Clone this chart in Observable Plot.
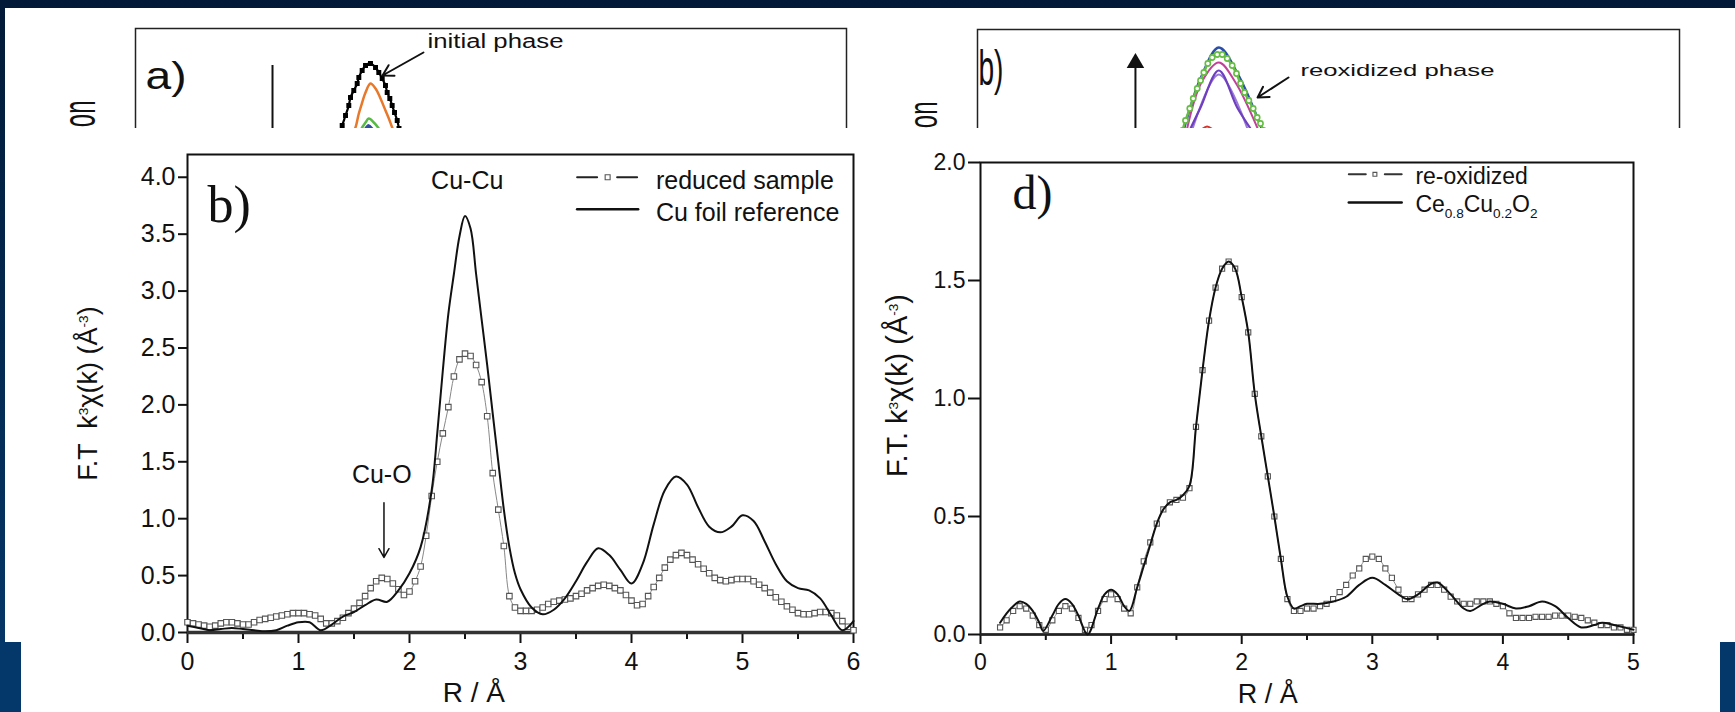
<!DOCTYPE html>
<html><head><meta charset="utf-8">
<script src="https://cdn.jsdelivr.net/npm/d3@7"></script>
<script src="https://cdn.jsdelivr.net/npm/@observablehq/plot@0.6"></script>
<style>
html,body{margin:0;padding:0;}
body{width:1735px;height:712px;overflow:hidden;position:relative;background:linear-gradient(#021a37,#05396c);font-family:"Liberation Sans",Arial,sans-serif;}
#paper{position:absolute;left:5px;top:8px;width:1730px;height:704px;background:#fff;}
.blk{position:absolute;background:#04386b;}
.frag{position:absolute;top:8px;height:120px;overflow:hidden;}
.main{position:absolute;top:128px;}
svg{display:block;}
</style></head><body>
<div id="paper"></div>
<div class="blk" style="left:0;top:642px;width:21px;height:70px"></div>
<div class="blk" style="left:1720px;top:642px;width:15px;height:70px"></div>
<div id="fragA" class="frag" style="left:0;width:870px"></div>
<div id="fragB" class="frag" style="left:870px;width:865px"></div>
<div id="chartB" class="main" style="left:0"></div>
<div id="chartD" class="main" style="left:870px"></div>
<script>
// ---------------- DATA: panel b) (left main chart) ----------------
const xTicksB = [0, 1, 2, 3, 4, 5, 6];
const xMinorB = [0.5, 1.5, 2.5, 3.5, 4.5, 5.5];
const yTicksB = [0, 0.5, 1, 1.5, 2, 2.5, 3, 3.5, 4];
const R_cuFoil = [0,0.1,0.2,0.3,0.4,0.5,0.6,0.7,0.8,0.9,1.0,1.1,1.2,1.3,1.4,1.5,1.6,1.7,1.8,1.9,2.0,2.1,2.2,
  2.25,2.3,2.35,2.4,2.45,2.5,2.55,2.6,2.65,2.7,2.75,2.8,2.85,2.9,2.95,3.0,
  3.1,3.2,3.3,3.4,3.5,3.6,3.7,3.8,3.9,4.0,4.1,4.2,4.3,4.4,4.5,4.6,4.7,4.8,4.9,5.0,5.1,5.2,5.3,5.4,5.5,5.6,5.7,5.8,5.9,6.0];
const cuFoil = [0.06,0.04,0.02,0.03,0.04,0.03,0.02,0.01,0.02,0.06,0.09,0.09,0.02,0.07,0.14,0.18,0.24,0.29,0.27,0.37,0.52,0.75,1.25,
  1.75,2.3,2.8,3.15,3.48,3.66,3.55,3.15,2.75,2.35,1.92,1.5,1.08,0.75,0.52,0.38,
  0.22,0.16,0.2,0.3,0.45,0.62,0.74,0.68,0.55,0.43,0.6,0.95,1.25,1.37,1.3,1.1,0.93,0.88,0.93,1.03,0.98,0.8,0.6,0.45,0.39,0.37,0.3,0.15,0.02,0.1];
const R_reduced = [0,0.05,0.1,0.15,0.2,0.25,0.3,0.35,0.4,0.45,0.5,0.55,0.6,0.65,0.7,0.75,0.8,0.85,0.9,0.95,
  1.0,1.05,1.1,1.15,1.2,1.25,1.3,1.35,1.4,1.45,1.5,1.55,1.6,1.65,1.7,1.75,1.8,1.85,1.9,1.95,
  2.0,2.05,2.1,2.15,2.2,2.25,2.3,2.35,2.4,2.45,2.5,2.55,2.6,2.65,2.7,2.75,2.8,2.85,2.9,2.95,
  3.0,3.05,3.1,3.15,3.2,3.25,3.3,3.35,3.4,3.45,3.5,3.55,3.6,3.65,3.7,3.75,3.8,3.85,3.9,3.95,
  4.0,4.05,4.1,4.15,4.2,4.25,4.3,4.35,4.4,4.45,4.5,4.55,4.6,4.65,4.7,4.75,4.8,4.85,4.9,4.95,
  5.0,5.05,5.1,5.15,5.2,5.25,5.3,5.35,5.4,5.45,5.5,5.55,5.6,5.65,5.7,5.75,5.8,5.85,5.9,5.95,6.0];
const reduced = [0.09,0.08,0.07,0.06,0.05,0.06,0.08,0.09,0.09,0.08,
  0.07,0.07,0.09,0.11,0.12,0.13,0.14,0.15,0.16,0.17,
  0.17,0.17,0.16,0.15,0.12,0.08,0.08,0.10,0.13,0.17,
  0.21,0.26,0.32,0.39,0.45,0.48,0.47,0.43,0.38,0.33,
  0.36,0.45,0.58,0.85,1.20,1.50,1.75,1.98,2.25,2.40,
  2.45,2.43,2.35,2.20,1.90,1.40,1.08,0.76,0.32,0.22,
  0.19,0.19,0.19,0.20,0.22,0.25,0.27,0.28,0.29,0.30,
  0.32,0.34,0.37,0.39,0.41,0.42,0.41,0.39,0.37,0.33,
  0.28,0.24,0.25,0.32,0.40,0.48,0.57,0.64,0.68,0.70,
  0.68,0.64,0.60,0.56,0.52,0.48,0.46,0.45,0.46,0.47,
  0.47,0.47,0.45,0.42,0.39,0.35,0.31,0.27,0.23,0.20,
  0.17,0.16,0.16,0.17,0.18,0.18,0.17,0.15,0.10,0.05,0.02];
const legendB = ["reduced sample", "Cu foil reference"];

// ---------------- DATA: panel d) (right main chart) ----------------
const xTicksD = [0, 1, 2, 3, 4, 5];
const xMinorD = [0.5, 1.5, 2.5, 3.5, 4.5];
const yTicksD = [0, 0.5, 1, 1.5, 2];
const R_ce = [0.15,0.2,0.25,0.3,0.35,0.4,0.45,0.48,0.55,0.6,0.65,0.7,0.75,0.82,0.9,0.95,1.0,1.05,1.1,1.14,
  1.2,1.25,1.3,1.35,1.4,1.45,1.5,1.55,1.6,1.65,1.7,1.75,1.8,1.85,1.9,1.95,2.0,2.05,2.1,
  2.15,2.2,2.25,2.3,2.35,2.4,2.45,2.5,2.6,2.7,2.8,2.9,3.0,3.1,3.2,3.27,3.35,3.45,3.5,3.6,3.7,3.75,3.85,3.9,
  4.0,4.1,4.2,4.3,4.4,4.5,4.6,4.7,4.76,4.85,5.0];
const ceCu = [0.05,0.09,0.12,0.14,0.13,0.1,0.05,0.015,0.08,0.13,0.15,0.13,0.08,0.0,0.11,0.17,0.19,0.17,0.12,0.1,
  0.2,0.29,0.38,0.47,0.53,0.56,0.57,0.59,0.63,0.88,1.12,1.33,1.47,1.55,1.58,1.55,1.43,1.28,1.02,
  0.84,0.67,0.5,0.32,0.16,0.11,0.12,0.13,0.13,0.14,0.16,0.21,0.24,0.21,0.17,0.15,0.17,0.215,0.22,0.17,0.11,0.10,0.13,0.14,
  0.13,0.11,0.12,0.14,0.12,0.07,0.03,0.04,0.05,0.04,0.02];
const R_reox = [0.15,0.2,0.25,0.3,0.35,0.4,0.45,0.5,0.55,0.6,
  0.65,0.7,0.75,0.8,0.85,0.9,0.95,1.0,1.05,1.1,
  1.15,1.2,1.25,1.3,1.35,1.4,1.45,1.5,1.55,1.6,
  1.65,1.7,1.75,1.8,1.85,1.9,1.95,2.0,2.05,2.1,
  2.15,2.2,2.25,2.3,2.35,2.4,2.45,2.5,2.55,2.6,
  2.65,2.7,2.75,2.8,2.85,2.9,2.95,3.0,3.05,3.1,
  3.15,3.2,3.25,3.3,3.35,3.4,3.45,3.5,3.55,3.6,
  3.65,3.7,3.75,3.8,3.85,3.9,3.95,4.0,4.05,4.1,
  4.15,4.2,4.25,4.3,4.35,4.4,4.45,4.5,4.55,4.6,
  4.65,4.7,4.75,4.8,4.85,4.9,4.95,5.0];
const reox = [0.03,0.06,0.10,0.12,0.11,0.08,0.04,0.02,0.06,0.10,
  0.12,0.11,0.07,0.02,0.04,0.10,0.15,0.17,0.15,0.11,
  0.09,0.20,0.31,0.39,0.47,0.53,0.56,0.57,0.58,0.62,
  0.88,1.12,1.33,1.47,1.55,1.58,1.55,1.43,1.28,1.02,
  0.84,0.67,0.50,0.32,0.15,0.10,0.10,0.11,0.11,0.12,
  0.13,0.15,0.18,0.21,0.25,0.28,0.32,0.33,0.32,0.28,
  0.24,0.19,0.15,0.15,0.17,0.19,0.21,0.21,0.19,0.16,
  0.14,0.13,0.13,0.14,0.14,0.14,0.13,0.12,0.09,0.07,
  0.07,0.07,0.075,0.075,0.075,0.08,0.08,0.08,0.075,0.07,
  0.06,0.05,0.04,0.04,0.03,0.03,0.02,0.02];
const legendD = ["re-oxidized", "Ce_{0.8}Cu_{0.2}O_{2}"];

// ---------------- DATA: cropped top fragments (arbitrary units) ----------------
const fa_blackX = [28.9,29.07,29.54,30.0,30.24,30.70,31.18,31.41,31.88,32.35,33.05,33.76,34.22,34.70,35.16,35.40,35.77,36.10,36.43,36.81,37.06];
const fa_blackY = [0.98,1.03,1.13,1.23,1.31,1.38,1.45,1.51,1.58,1.63,1.65,1.61,1.56,1.50,1.43,1.36,1.30,1.23,1.16,1.08,1.0];
const fa_orangeX = [30.7,30.94,31.41,31.88,32.35,33.05,33.76,34.46,35.16,35.63,36.10,36.3];
const fa_orangeY = [0.98,1.01,1.15,1.26,1.36,1.45,1.40,1.30,1.18,1.10,1.01,0.98];
const fa_greenX = [31.6,31.88,32.35,32.81,33.52,34.22];
const fa_greenY = [0.98,1.01,1.06,1.10,1.06,1.0];
const fa_blueX = [32.07,32.81,33.76];
const fa_blueY = [0.98,1.04,0.98];
const fb_greenX = [29.2,29.63,30.24,30.73,31.30,31.77,32.24,32.81,33.43,34.15,34.86,35.57,36.28,36.89,37.46,38.03,38.65,39.27,39.84,40.31,40.74];
const fb_greenY = [0.99,1.09,1.21,1.31,1.41,1.49,1.57,1.66,1.72,1.75,1.75,1.71,1.64,1.56,1.46,1.37,1.29,1.21,1.12,1.06,0.99];
const fb_blueX = [29.35,31.77,34.37,37.04,40.6];
const fb_blueY = [0.99,1.51,1.82,1.56,0.99];
const fb_magentaX = [29.8,31.9,34.37,36.75,40.03];
const fb_magentaY = [0.99,1.47,1.67,1.47,0.99];
const fb_purpleX = [30.34,31.77,34.37,36.99,38.89];
const fb_purpleY = [1.01,1.22,1.59,1.22,1.01];
const fb_violetX = [30.6,34.37,38.5];
const fb_violetY = [1.0,1.55,1.0];
const fb_redX = [31.77,32.7,33.7];
const fb_redY = [0.99,1.03,0.99];

// ---------------- helpers ----------------
const zip = (xs, ys) => xs.map((x, i) => ({x, y: ys[i]}));
const SANS = "Liberation Sans, Arial, sans-serif";
const SERIF = "Liberation Serif, Times New Roman, serif";

function richify(svg) {
  svg.querySelectorAll("text").forEach(t => {
    const s = t.textContent;
    if (!/[_^]\{/.test(s)) return;
    const fs = parseFloat(t.getAttribute("font-size")) || 20;
    while (t.firstChild) t.removeChild(t.firstChild);
    const re = /([_^])\{([^}]*)\}|([^_^]+)/g;
    let m, shift = 0;
    while ((m = re.exec(s))) {
      const sp = document.createElementNS("http://www.w3.org/2000/svg", "tspan");
      let target = 0;
      if (m[1]) {
        target = m[1] === "^" ? -0.45 * fs : 0.28 * fs;
        sp.setAttribute("font-size", (0.68 * fs).toFixed(1));
        sp.textContent = m[2];
      } else sp.textContent = m[3];
      if (target - shift !== 0) sp.setAttribute("dy", (target - shift).toFixed(2));
      shift = target;
      t.appendChild(sp);
    }
  });
}
function fit(svg, content, len) {
  svg.querySelectorAll("text").forEach(t => {
    if (t.textContent === content) { t.setAttribute("textLength", len); t.setAttribute("lengthAdjust", "spacingAndGlyphs"); }
  });
}
function stretchRot(svg, content, s) {
  svg.querySelectorAll("text").forEach(t => {
    if (t.textContent === content) t.setAttribute("transform", (t.getAttribute("transform") || "") + ` scale(1,${s})`);
  });
}
function draw(id, fn) {
  try { const el = fn(); document.getElementById(id).append(el); }
  catch (e) { console.error(id, e); }
}
const fmt1 = d3.format(".1f");
const fmt0 = d3.format("d");

// ---------------- fragment a) ----------------
draw("fragA", () => {
  const svg = Plot.plot({
    width: 870, height: 220, marginLeft: 135, marginRight: 24, marginTop: 20, marginBottom: 0,
    x: {domain: [0, 100], axis: null}, y: {domain: [0, 2], axis: null},
    style: {background: "transparent", fontFamily: SANS, color: "#111"},
    marks: [
      Plot.frame({stroke: "#222", strokeWidth: 1.5}),
      Plot.ruleX([{x: 19.27, y1: 1.63, y2: 0.5}], {x: "x", y1: "y1", y2: "y2", stroke: "#111", strokeWidth: 2}),
      Plot.areaY(zip(fa_blueX, fa_blueY).map(d => ({...d, b: 0.98})), {x: "x", y1: "b", y2: "y", fill: "#2f4f9f", curve: "catmull-rom"}),
      Plot.line(zip(fa_greenX, fa_greenY), {x: "x", y: "y", stroke: "#58b947", strokeWidth: 2.5, curve: "catmull-rom"}),
      Plot.line(zip(fa_orangeX, fa_orangeY), {x: "x", y: "y", stroke: "#e8782a", strokeWidth: 2.5, curve: "catmull-rom"}),
      Plot.line(zip(fa_blackX, fa_blackY), {x: "x", y: "y", stroke: "#000", strokeWidth: 2.2, curve: "catmull-rom"}),
      Plot.dot(zip(fa_blackX, fa_blackY), {x: "x", y: "y", symbol: "square", r: 2.8, fill: "#000"}),
      Plot.arrow([{x1: 40.5, y1: 1.76, x2: 34.74, y2: 1.53}], {x1: "x1", y1: "y1", x2: "x2", y2: "y2", stroke: "#111", strokeWidth: 2, headLength: 9}),
      Plot.text([{x: 41.07, y: 1.874, t: "initial phase"}], {x: "x", y: "y", text: "t", textAnchor: "start", fontSize: 20}),
      Plot.text([{x: 1.41, y: 1.52, t: "a)"}], {x: "x", y: "y", text: "t", textAnchor: "start", fontSize: 38}),
      Plot.text([{x: -7.74, y: 1.28, t: "on"}], {x: "x", y: "y", text: "t", textAnchor: "end", rotate: -90, fontSize: 24})
    ]
  });
  fit(svg, "initial phase", 136);
  fit(svg, "a)", 41);
  stretchRot(svg, "on", 1.9);
  return svg;
});

// ---------------- fragment b) ----------------
draw("fragB", () => {
  const svg = Plot.plot({
    width: 865, height: 221, marginLeft: 107, marginRight: 56, marginTop: 21, marginBottom: 0,
    x: {domain: [0, 100], axis: null}, y: {domain: [0, 2], axis: null},
    style: {background: "transparent", fontFamily: SANS, color: "#111"},
    marks: [
      Plot.frame({stroke: "#222", strokeWidth: 1.5}),
      Plot.ruleX([{x: 22.5, y1: 1.62, y2: 0.5}], {x: "x", y1: "y1", y2: "y2", stroke: "#111", strokeWidth: 2}),
      Plot.dot([{x: 22.5, y: 1.665}], {x: "x", y: "y", symbol: "triangle", r: 6.5, fill: "#111"}),
      Plot.line(zip(fb_redX, fb_redY), {x: "x", y: "y", stroke: "#d9342b", strokeWidth: 2, curve: "catmull-rom"}),
      Plot.line(zip(fb_violetX, fb_violetY), {x: "x", y: "y", stroke: "#9a7ad8", strokeWidth: 2, curve: "catmull-rom"}),
      Plot.line(zip(fb_purpleX, fb_purpleY), {x: "x", y: "y", stroke: "#6f3fc0", strokeWidth: 2.2, curve: "catmull-rom"}),
      Plot.line(zip(fb_magentaX, fb_magentaY), {x: "x", y: "y", stroke: "#c2409a", strokeWidth: 2, curve: "catmull-rom"}),
      Plot.line(zip(fb_blueX, fb_blueY), {x: "x", y: "y", stroke: "#2b4ea8", strokeWidth: 2.5, curve: "catmull-rom"}),
      Plot.line(zip(fb_greenX, fb_greenY), {x: "x", y: "y", stroke: "#66bd45", strokeWidth: 2.5, curve: "catmull-rom"}),
      Plot.dot(zip(fb_greenX, fb_greenY), {x: "x", y: "y", r: 2.6, fill: "white", stroke: "#66bd45", strokeWidth: 1.6}),
      Plot.arrow([{x1: 44.3, y1: 1.52, x2: 39.9, y2: 1.32}], {x1: "x1", y1: "y1", x2: "x2", y2: "y2", stroke: "#111", strokeWidth: 2, headLength: 9}),
      Plot.text([{x: 46.0, y: 1.594, t: "reoxidized phase"}], {x: "x", y: "y", text: "t", textAnchor: "start", fontSize: 17}),
      Plot.text([{x: 0.14, y: 1.605, t: "b)"}], {x: "x", y: "y", text: "t", textAnchor: "start", fontSize: 50}),
      Plot.text([{x: -7.69, y: 1.28, t: "on"}], {x: "x", y: "y", text: "t", textAnchor: "end", rotate: -90, fontSize: 24})
    ]
  });
  fit(svg, "reoxidized phase", 194);
  fit(svg, "b)", 25);
  stretchRot(svg, "on", 1.7);
  return svg;
});

// ---------------- main chart b) ----------------
draw("chartB", () => {
  const svg = Plot.plot({
    width: 870, height: 584, marginLeft: 187, marginRight: 17, marginTop: 26, marginBottom: 80,
    x: {domain: [0, 6]}, y: {domain: [0, 4.2]},
    style: {background: "transparent", fontFamily: SANS, fontSize: "25px", color: "#111"},
    marks: [
      Plot.frame({stroke: "#111", strokeWidth: 2}),
      Plot.axisY(yTicksB, {tickSize: 9, tickPadding: 3, tickFormat: fmt1, label: null, fontSize: 25, strokeWidth: 2}),
      Plot.axisX(xTicksB, {tickSize: 11, tickPadding: 9, tickFormat: fmt0, label: null, fontSize: 25, strokeWidth: 2}),
      Plot.axisX(xMinorB, {tickSize: 7, tickFormat: () => "", label: null, strokeWidth: 2}),
      Plot.ruleY([0], {stroke: "#333", strokeWidth: 3.5}),
      Plot.line(zip(R_reduced, reduced), {x: "x", y: "y", stroke: "#888", strokeWidth: 1, curve: "catmull-rom"}),
      Plot.dot(zip(R_reduced, reduced), {x: "x", y: "y", symbol: "square", r: 3.1, fill: "white", stroke: "#555", strokeWidth: 1.1}),
      Plot.line(zip(R_cuFoil, cuFoil), {x: "x", y: "y", stroke: "#111", strokeWidth: 2, curve: "catmull-rom"}),
      Plot.line([{x: 3.51, y: 4.0}, {x: 4.06, y: 4.0}], {x: "x", y: "y", stroke: "#222", strokeWidth: 2, strokeDasharray: "20 20"}),
      Plot.dot([{x: 3.785, y: 4.0}], {x: "x", y: "y", symbol: "square", r: 2.8, fill: "white", stroke: "#555", strokeWidth: 1.1}),
      Plot.line([{x: 3.51, y: 3.72}, {x: 4.06, y: 3.72}], {x: "x", y: "y", stroke: "#111", strokeWidth: 2.5}),
      Plot.text([{x: 4.22, y: 3.97, t: legendB[0]}, {x: 4.22, y: 3.69, t: legendB[1]}], {x: "x", y: "y", text: "t", textAnchor: "start", fontSize: 25}),
      Plot.text([{x: 2.52, y: 3.97, t: "Cu-Cu"}, {x: 1.75, y: 1.38, t: "Cu-O"}], {x: "x", y: "y", text: "t", fontSize: 25}),
      Plot.arrow([{x1: 1.77, y1: 1.14, x2: 1.77, y2: 0.66}], {x1: "x1", y1: "y1", x2: "x2", y2: "y2", stroke: "#111", strokeWidth: 1.5, headLength: 10}),
      Plot.text([{x: 0.18, y: 3.75, t: "b)"}], {x: "x", y: "y", text: "t", textAnchor: "start", fontSize: 52, fontFamily: SERIF}),
      Plot.text([{x: 2.58, y: -0.535, t: "R / Å"}], {x: "x", y: "y", text: "t", fontSize: 28}),
      Plot.text([{x: -0.89, y: 2.1, t: "F.T  k^{3}χ(k) (Å^{-3})"}], {x: "x", y: "y", text: "t", rotate: -90, fontSize: 27})
    ]
  });
  richify(svg);
  return svg;
});

// ---------------- main chart d) ----------------
draw("chartD", () => {
  const svg = Plot.plot({
    width: 865, height: 584, marginLeft: 110, marginRight: 102, marginTop: 34, marginBottom: 78,
    x: {domain: [0, 5]}, y: {domain: [0, 2]},
    style: {background: "transparent", fontFamily: SANS, fontSize: "23px", color: "#111"},
    marks: [
      Plot.frame({stroke: "#111", strokeWidth: 2}),
      Plot.axisY(yTicksD, {tickSize: 12, tickPadding: 3, tickFormat: fmt1, label: null, fontSize: 23, strokeWidth: 2}),
      Plot.axisX(xTicksD, {tickSize: 10, tickPadding: 9, tickFormat: fmt0, label: null, fontSize: 23, strokeWidth: 2}),
      Plot.axisX(xMinorD, {tickSize: 6, tickFormat: () => "", label: null, strokeWidth: 2}),
      Plot.ruleY([0], {stroke: "#222", strokeWidth: 2.5}),
      Plot.line(zip(R_reox, reox), {x: "x", y: "y", stroke: "#888", strokeWidth: 1, curve: "catmull-rom"}),
      Plot.dot(zip(R_reox, reox), {x: "x", y: "y", symbol: "square", r: 2.9, fill: "white", stroke: "#555", strokeWidth: 1.1}),
      Plot.line(zip(R_ce, ceCu), {x: "x", y: "y", stroke: "#111", strokeWidth: 2, curve: "catmull-rom"}),
      Plot.line([{x: 2.82, y: 1.95}, {x: 3.225, y: 1.95}], {x: "x", y: "y", stroke: "#333", strokeWidth: 2, strokeDasharray: "17 19"}),
      Plot.dot([{x: 3.02, y: 1.95}], {x: "x", y: "y", symbol: "square", r: 2.2, fill: "white", stroke: "#555", strokeWidth: 1.1}),
      Plot.line([{x: 2.82, y: 1.83}, {x: 3.225, y: 1.83}], {x: "x", y: "y", stroke: "#111", strokeWidth: 2.5}),
      Plot.text([{x: 3.33, y: 1.942, t: legendD[0]}, {x: 3.33, y: 1.82, t: legendD[1]}], {x: "x", y: "y", text: "t", textAnchor: "start", fontSize: 23}),
      Plot.text([{x: 0.245, y: 1.87, t: "d)"}], {x: "x", y: "y", text: "t", textAnchor: "start", fontSize: 48, fontFamily: SERIF}),
      Plot.text([{x: 2.2, y: -0.254, t: "R / Å"}], {x: "x", y: "y", text: "t", fontSize: 27}),
      Plot.text([{x: -0.636, y: 1.055, t: "F.T. k^{3}χ(k) (Å^{-3})"}], {x: "x", y: "y", text: "t", rotate: -90, fontSize: 29})
    ]
  });
  richify(svg);
  return svg;
});
</script>
</body></html>
